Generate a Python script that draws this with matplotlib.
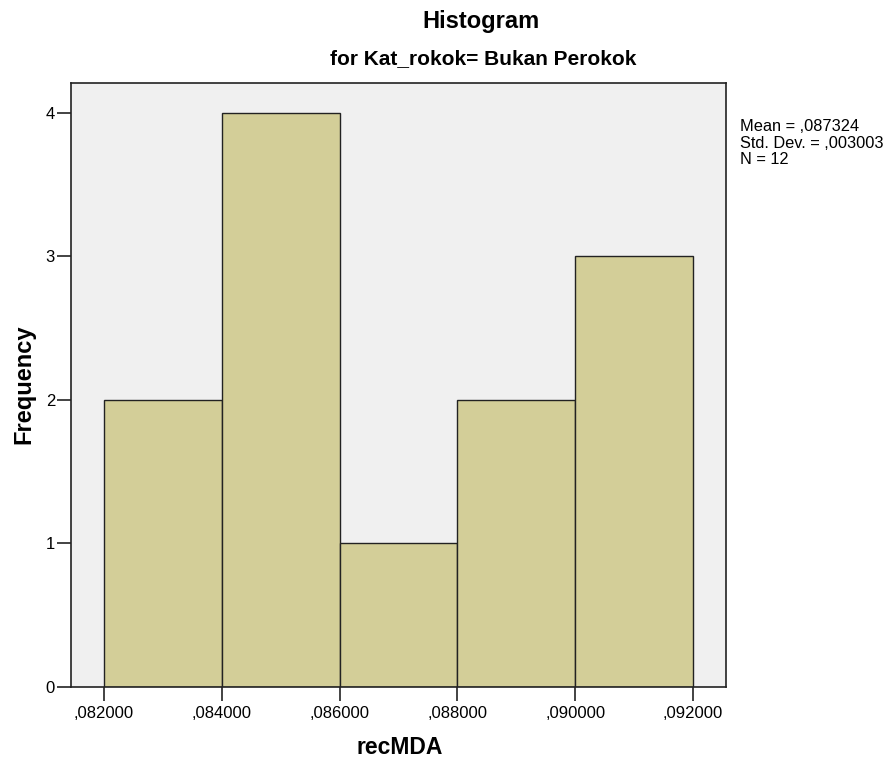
import matplotlib
matplotlib.use("Agg")
import matplotlib.pyplot as plt

plt.rcParams['font.family'] = ['Liberation Sans', 'DejaVu Sans']

bin_edges = [0.082, 0.084, 0.086, 0.088, 0.090, 0.092]
counts = [2, 4, 1, 2, 3]
xtick_vals = [0.082, 0.084, 0.086, 0.088, 0.090, 0.092]
xtick_labels = [',082000', ',084000', ',086000', ',088000', ',090000', ',092000']
ytick_vals = [0, 1, 2, 3, 4]
stats_text = "Mean = ,087324\nStd. Dev. = ,003003\nN = 12"

W, H = 890, 762
fig = plt.figure(figsize=(W / 100, H / 100), dpi=100)
left, right, top, bottom = 71, 726, 83, 687
ax = fig.add_axes([left / W, 1 - bottom / H, (right - left) / W, (bottom - top) / H])
ax.set_facecolor('#F0F0F0')

widths = [bin_edges[i + 1] - bin_edges[i] for i in range(len(counts))]
ax.bar(bin_edges[:-1], counts, width=widths, align='edge',
       color='#D3CE98', edgecolor='#222222', linewidth=1.0)

ax.set_xlim(0.08144, 0.09256)
ax.set_ylim(0, 4.209)
ax.set_xticks(xtick_vals)
ax.set_xticklabels(xtick_labels, fontsize=12)
ax.set_yticks(ytick_vals)
ax.set_yticklabels([str(v) for v in ytick_vals], fontsize=12)
ax.tick_params(axis='both', direction='out', length=10, width=1.2, color='#222222')
ax.tick_params(axis='x', pad=4)
ax.tick_params(axis='y', pad=1.5)
for s in ax.spines.values():
    s.set_color('#222222')
    s.set_linewidth(1.2)

fig.text(481 / W, 1 - 28 / H, 'Histogram', ha='center', va='baseline',
         fontsize=17, fontweight='bold')
fig.text(483 / W, 1 - 64 / H, 'for Kat_rokok= Bukan Perokok', ha='center', va='baseline',
         fontsize=15, fontweight='bold')
fig.text(24 / W, 1 - 384 / H, 'Frequency', ha='center', va='center', rotation=90,
         fontsize=17, fontweight='bold')
fig.text(400 / W, 1 - 747 / H, 'recMDA', ha='center', va='center',
         fontsize=16.5, fontweight='bold')
fig.text(740 / W, 1 - 119 / H, stats_text, ha='left', va='top', fontsize=11.8,
         linespacing=1.13, multialignment='left')

fig.savefig('out.png', dpi=100)
